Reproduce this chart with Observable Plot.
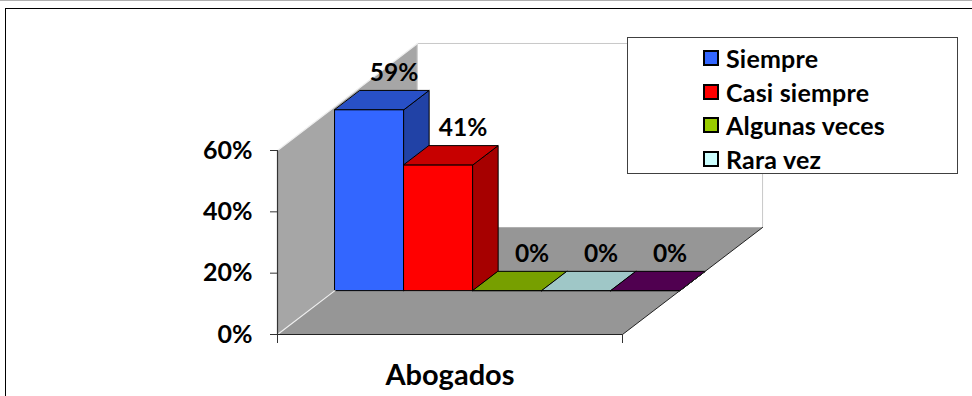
<!DOCTYPE html>
<html>
<head>
<meta charset="utf-8">
<script src="https://cdn.jsdelivr.net/npm/d3@7"></script>
<script src="https://cdn.jsdelivr.net/npm/@observablehq/plot@0.6"></script>
<style>
  html, body { margin: 0; padding: 0; background: #fff; overflow: hidden; }
  #wrap { position: relative; width: 972px; height: 396px; overflow: hidden; font-family: "Lato", "Open Sans", sans-serif; }
  #topline { position: absolute; left: 0; top: 0; width: 972px; height: 1px; background: #b0b0b0; }
  #frame { position: absolute; left: 5px; top: 8px; width: 1000px; height: 500px; border: 1.5px solid #000; box-sizing: border-box; }
  #chart { position: absolute; left: 0; top: 0; }
  #legend { position: absolute; left: 627px; top: 37px; width: 331px; height: 137px; border: 1.5px solid #404040; box-sizing: border-box; background: #fff; padding: 3px 0 0 75px; }
  .item { height: 33.7px; display: flex; align-items: center; font-weight: 700; font-size: 25px; color: #000; letter-spacing: 0.2px; }
  .sw { width: 16px; height: 16px; border: 2px solid #000; box-sizing: border-box; margin-right: 7px; flex: none; }
</style>
</head>
<body>
<div id="wrap">
  <div id="topline"></div>
  <div id="frame"></div>
  <div id="chart"></div>
  <div id="legend"></div>
</div>
<script>
// ---- data ----
const categories = ["Abogados"];
const series = ["Siempre", "Casi siempre", "Algunas veces", "Rara vez", "(sin etiqueta)"];
const values = [59, 41, 0, 0, 0];
const colors = ["#3366FF", "#FF0000", "#99CC00", "#CCFFFF", "#660066"];
const legendCount = 4;
const yTicks = [0, 20, 40, 60];
const yMax = 60;

// ---- 3D projection helpers (depth expressed in scale units) ----
const KX = 0.406;   // x-units per full depth
const KY = 34.9;    // %-units per full depth
const d0 = 0.41, d1 = 0.59;
const P = (x, d, v) => ({X: x + KX * d, Y: v + KY * d});
const shade = (c, f) => { const r = d3.rgb(c); return d3.rgb(r.r * f, r.g * f, r.b * f).formatHex(); };

const faces = [];
function addFace(id, pts, fill, stroke) {
  pts.forEach(p => faces.push({face: id, X: p.X, Y: p.Y, fill, stroke}));
}
// walls and floor
addFace("leftwall", [P(0,0,0), P(0,1,0), P(0,1,yMax), P(0,0,yMax)], "#A6A6A6", "none");
addFace("backwall", [P(0,1,0), P(1,1,0), P(1,1,yMax), P(0,1,yMax)], "#FFFFFF", "#C8C8C8");
addFace("floor", [P(0,0,0), P(1,0,0), P(1,1,0), P(0,1,0)], "#969696", "none");

// bars
const bw = 1 / series.length;
series.forEach((s, i) => {
  const x0 = i * bw, x1 = (i + 1) * bw, v = values[i], c = colors[i];
  addFace("front" + i, [P(x0,d0,0), P(x1,d0,0), P(x1,d0,v), P(x0,d0,v)], c, "#000");
  addFace("side" + i, [P(x1,d0,0), P(x1,d1,0), P(x1,d1,v), P(x1,d0,v)], shade(c, 0.65), "#000");
  addFace("top" + i, [P(x0,d0,v), P(x1,d0,v), P(x1,d1,v), P(x0,d1,v)], shade(c, 0.78), "#000");
});

// floor dark edges (front + right)
const floorEdge = [P(0,0,0), P(1,0,0), P(1,1,0)];
// light highlight edges of the left wall
const wallEdgeTop = [P(0,0,yMax), P(0,1,yMax)];
const wallEdgeBottom = [P(0,0,0), P(0,d0,0)];

const labels = series.map((s, i) => ({
  ...P((i + 0.5) * bw, 0.5, values[i]),
  text: values[i] + "%"
}));

const plot = Plot.plot({
  width: 972,
  height: 396,
  marginLeft: 277,
  marginRight: 350,
  marginTop: 150,
  marginBottom: 62,
  style: {fontFamily: "Lato, 'Open Sans', sans-serif", background: "transparent", overflow: "visible"},
  x: {domain: [0, 1]},
  y: {domain: [0, yMax]},
  color: {type: "identity"},
  marks: [
    Plot.line(faces, {x: "X", y: "Y", z: "face", fill: "fill", stroke: "stroke", strokeWidth: 1, curve: "linear-closed"}),
    Plot.line(wallEdgeTop, {x: "X", y: "Y", stroke: "#EEEEEE", strokeWidth: 1.2}),
    Plot.line(wallEdgeBottom, {x: "X", y: "Y", stroke: "#EEEEEE", strokeWidth: 1.2}),
    Plot.line(floorEdge, {x: "X", y: "Y", stroke: "#222", strokeWidth: 1}),
    Plot.ruleX([0], {y1: 0, y2: yMax, stroke: "#333", strokeWidth: 1.2}),
    Plot.axisY({ticks: yTicks, tickFormat: d => d + "%", tickSize: 7, tickPadding: 18, fontSize: 25, fontWeight: "bold", label: null, stroke: "#333", color: "#000"}),
    Plot.axisX({ticks: [0, 1], tickSize: 9, tickFormat: () => "", label: null, stroke: "#333"}),
    Plot.axisX({ticks: [0.5], tickSize: 0, tickPadding: 30, tickFormat: () => categories[0], fontSize: 29, fontWeight: "bold", label: null, color: "#000"}),
    Plot.text(labels, {x: "X", y: "Y", text: "text", dx: 12, dy: -27, fontSize: 24.5, fontWeight: "bold", fill: "#000"})
  ]
});
document.getElementById("chart").appendChild(plot);

// legend (first four series)
const legend = document.getElementById("legend");
series.slice(0, legendCount).forEach((s, i) => {
  const row = document.createElement("div");
  row.className = "item";
  const sw = document.createElement("div");
  sw.className = "sw";
  sw.style.background = colors[i];
  const t = document.createElement("span");
  t.textContent = s;
  row.appendChild(sw);
  row.appendChild(t);
  legend.appendChild(row);
});
</script>
</body>
</html>
